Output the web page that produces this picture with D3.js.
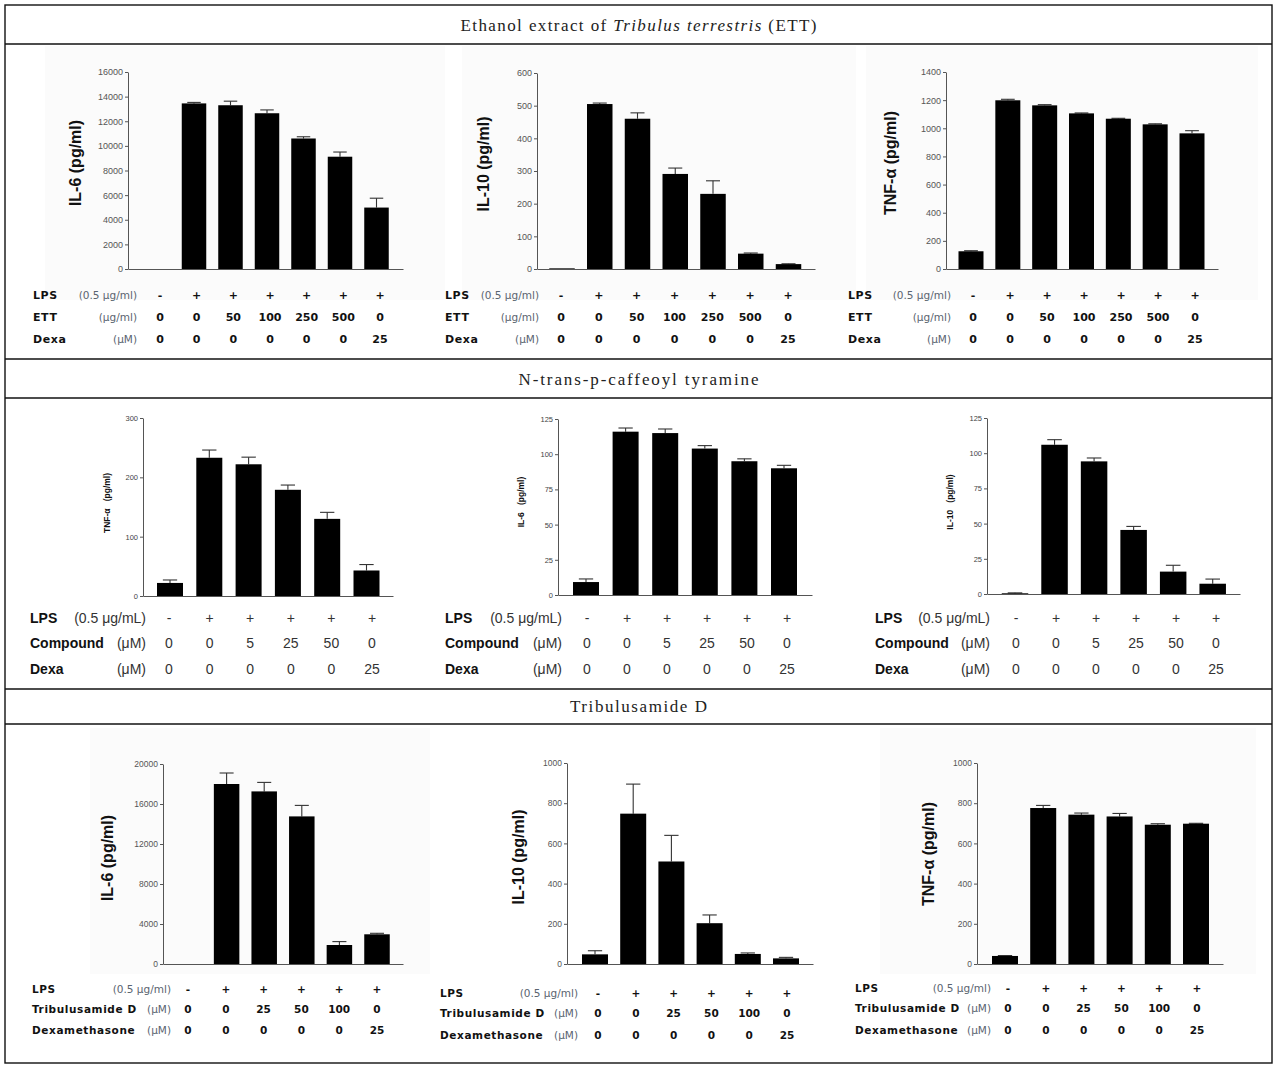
<!DOCTYPE html>
<html><head><meta charset="utf-8">
<script src="https://cdn.jsdelivr.net/npm/d3@7"></script>
<style>body{margin:0;background:#fff}svg text{white-space:pre}</style>
</head><body>
<svg id="c" width="1277" height="1068"></svg>
<script>
// ---------- DATA ----------
const sectionTitles = [
  [["Ethanol extract of ", false], ["Tribulus terrestris", true], [" (ETT)", false]],
  [["N-trans-p-caffeoyl tyramine", false]],
  [["Tribulusamide D", false]]
];

// Section 1: ETT
const ettRowNames = ["LPS", "ETT", "Dexa"];
const ettUnits = ["(0.5 μg/ml)", "(μg/ml)", "(μM)"];
const ettLPS = ["-", "+", "+", "+", "+", "+", "+"];
const ettDose = ["0", "0", "50", "100", "250", "500", "0"];
const ettDexa = ["0", "0", "0", "0", "0", "0", "25"];
const ettIL6 = [0, 13450, 13300, 12650, 10600, 9120, 4990];
const ettIL6Err = [0, 80, 330, 270, 140, 380, 760];
const ettIL6Ticks = [0, 2000, 4000, 6000, 8000, 10000, 12000, 14000, 16000];
const ettIL10 = [2, 505, 460, 291, 230, 47, 15];
const ettIL10Err = [0, 3, 18, 18, 40, 2, 1];
const ettIL10Ticks = [0, 100, 200, 300, 400, 500, 600];
const ettTNF = [126, 1199, 1163, 1106, 1068, 1028, 964];
const ettTNFErr = [4, 7, 5, 3, 3, 4, 19];
const ettTNFTicks = [0, 200, 400, 600, 800, 1000, 1200, 1400];

// Section 2: N-trans-p-caffeoyl tyramine
const cmpRowNames = ["LPS", "Compound", "Dexa"];
const cmpUnits = ["(0.5 μg/mL)", "(μM)", "(μM)"];
const cmpLPS = ["-", "+", "+", "+", "+", "+"];
const cmpDose = ["0", "0", "5", "25", "50", "0"];
const cmpDexa = ["0", "0", "0", "0", "0", "25"];
const cmpTNF = [22, 233, 222, 179, 130, 43];
const cmpTNFErr = [5, 13, 12, 8, 11, 10];
const cmpTNFTicks = [0, 100, 200, 300];
const cmpIL6 = [9.2, 116, 115, 104, 95, 90];
const cmpIL6Err = [2.2, 2.6, 2.9, 2.1, 1.7, 2.1];
const cmpIL10 = [0.5, 106, 94.2, 45.5, 15.9, 7.3];
const cmpIL10Err = [0.3, 3.6, 2.4, 2.5, 4.5, 3.3];
const cmpTicks125 = [0, 25, 50, 75, 100, 125];

// Section 3: Tribulusamide D
const tdRowNames = ["LPS", "Tribulusamide D", "Dexamethasone"];
const tdUnits = ["(0.5 μg/ml)", "(μM)", "(μM)"];
const tdLPS = ["-", "+", "+", "+", "+", "+"];
const tdDose = ["0", "0", "25", "50", "100", "0"];
const tdDexa = ["0", "0", "0", "0", "0", "25"];
const tdIL6 = [0, 18000, 17260, 14760, 1900, 2970];
const tdIL6Err = [0, 1100, 900, 1100, 340, 100];
const tdIL6Ticks = [0, 4000, 8000, 12000, 16000, 20000];
const tdIL10 = [48, 748, 510, 203, 50, 28];
const tdIL10Err = [18, 147, 130, 41, 5, 5];
const tdIL10Ticks = [0, 200, 400, 600, 800, 1000];
const tdTNF = [40, 776, 743, 734, 693, 698];
const tdTNFErr = [2, 13, 8, 15, 5, 2];
const tdTNFTicks = [0, 200, 400, 600, 800, 1000];

// ---------- LAYOUT ----------
const svg = d3.select("#c");
const W = 1277;

const styles = [
  { // section 1
    tick: {font: "Liberation Sans, Arial, sans-serif", size: 9, color: "#555"},
    ylab: {font: "Liberation Sans, Arial, sans-serif", size: 16, weight: "bold"},
    name: {font: "DejaVu Sans, sans-serif", size: 11, weight: "bold", ls: 0.6},
    unit: {font: "DejaVu Sans, sans-serif", size: 10.5, weight: "normal", color: "#5a6470"},
    val: {font: "DejaVu Sans, sans-serif", size: 11, weight: "bold", color: "#111"}
  },
  { // section 2
    tick: {font: "Liberation Sans, Arial, sans-serif", size: 7.5, color: "#444"},
    ylab: {font: "Liberation Sans, Arial, sans-serif", size: 8.5, weight: "bold"},
    name: {font: "Liberation Sans, Arial, sans-serif", size: 14, weight: "bold", ls: 0},
    unit: {font: "Liberation Sans, Arial, sans-serif", size: 14, weight: "normal", color: "#333"},
    val: {font: "Liberation Sans, Arial, sans-serif", size: 14, weight: "normal", color: "#333"}
  },
  { // section 3
    tick: {font: "Liberation Sans, Arial, sans-serif", size: 8.5, color: "#555"},
    ylab: {font: "Liberation Sans, Arial, sans-serif", size: 16, weight: "bold"},
    name: {font: "DejaVu Sans, sans-serif", size: 10.5, weight: "bold", ls: 0.6},
    unit: {font: "DejaVu Sans, sans-serif", size: 10.5, weight: "normal", color: "#5a6470"},
    val: {font: "DejaVu Sans, sans-serif", size: 10.5, weight: "bold", color: "#111"}
  }
];

const panels = [
  {sec:0, vals: ettIL6, errs: ettIL6Err, ticks: ettIL6Ticks, label: "IL-6 (pg/ml)",
   ax: 128, axEnd: 403, yTop: 72, yBot: 269, c1: 157.5, cN: 376.5, bw: 24.5, lx: 75, ly: 163,
   rows: [ettLPS, ettDose, ettDexa], names: ettRowNames, units: ettUnits,
   tx: 33, ux: 137, ry: [295, 317, 339], v1: 160, vN: 380, bg: [45, 46, 400, 254]},
  {sec:0, vals: ettIL10, errs: ettIL10Err, ticks: ettIL10Ticks, label: "IL-10 (pg/ml)",
   ax: 537, axEnd: 815, yTop: 73, yBot: 269, c1: 562, cN: 788.5, bw: 25.5, lx: 483, ly: 164,
   rows: [ettLPS, ettDose, ettDexa], names: ettRowNames, units: ettUnits,
   tx: 445, ux: 539, ry: [295, 317, 339], v1: 561, vN: 788, bg: [462, 46, 394, 254]},
  {sec:0, vals: ettTNF, errs: ettTNFErr, ticks: ettTNFTicks, label: "TNF-α (pg/ml)",
   ax: 946, axEnd: 1218, yTop: 72, yBot: 269, c1: 971, cN: 1192, bw: 25, lx: 890, ly: 163,
   rows: [ettLPS, ettDose, ettDexa], names: ettRowNames, units: ettUnits,
   tx: 848, ux: 951, ry: [295, 317, 339], v1: 973, vN: 1195, bg: [866, 46, 392, 254]},

  {sec:1, vals: cmpTNF, errs: cmpTNFErr, ticks: cmpTNFTicks, label: "TNF-α   (pg/ml)",
   ax: 143, axEnd: 393, yTop: 418, yBot: 596, c1: 170, cN: 366.5, bw: 26, lx: 107, ly: 503,
   rows: [cmpLPS, cmpDose, cmpDexa], names: cmpRowNames, units: cmpUnits,
   tx: 30, ux: 146, ry: [618, 643, 669], v1: 169, vN: 372},
  {sec:1, vals: cmpIL6, errs: cmpIL6Err, ticks: cmpTicks125, label: "IL-6   (pg/ml)",
   ax: 558, axEnd: 812, yTop: 419, yBot: 595, c1: 586, cN: 784, bw: 26, lx: 521, ly: 502,
   rows: [cmpLPS, cmpDose, cmpDexa], names: cmpRowNames, units: cmpUnits,
   tx: 445, ux: 562, ry: [618, 643, 669], v1: 587, vN: 787},
  {sec:1, vals: cmpIL10, errs: cmpIL10Err, ticks: cmpTicks125, label: "IL-10   (pg/ml)",
   ax: 987, axEnd: 1240, yTop: 418, yBot: 594, c1: 1015, cN: 1212.7, bw: 26.5, lx: 950, ly: 502,
   rows: [cmpLPS, cmpDose, cmpDexa], names: cmpRowNames, units: cmpUnits,
   tx: 875, ux: 990, ry: [618, 643, 669], v1: 1016, vN: 1216},

  {sec:2, vals: tdIL6, errs: tdIL6Err, ticks: tdIL6Ticks, label: "IL-6 (pg/ml)",
   ax: 163, axEnd: 403, yTop: 764, yBot: 964, c1: 189, cN: 377, bw: 25.5, lx: 107, ly: 858,
   rows: [tdLPS, tdDose, tdDexa], names: tdRowNames, units: tdUnits,
   tx: 32, ux: 171, ry: [989, 1009, 1030], v1: 188, vN: 377, bg: [90, 728, 340, 246]},
  {sec:2, vals: tdIL10, errs: tdIL10Err, ticks: tdIL10Ticks, label: "IL-10 (pg/ml)",
   ax: 567, axEnd: 813, yTop: 763, yBot: 964, c1: 595, cN: 786, bw: 26, lx: 518, ly: 857,
   rows: [tdLPS, tdDose, tdDexa], names: tdRowNames, units: tdUnits,
   tx: 440, ux: 578, ry: [993, 1013, 1035], v1: 598, vN: 787},
  {sec:2, vals: tdTNF, errs: tdTNFErr, ticks: tdTNFTicks, label: "TNF-α (pg/ml)",
   ax: 977, axEnd: 1223, yTop: 763, yBot: 964, c1: 1005, cN: 1196, bw: 26, lx: 928, ly: 854,
   rows: [tdLPS, tdDose, tdDexa], names: tdRowNames, units: tdUnits,
   tx: 855, ux: 991, ry: [988, 1008, 1030], v1: 1008, vN: 1197, bg: [880, 728, 376, 246]}
];

// ---------- TABLE FRAME ----------
const frame = {x0: 5, x1: 1272, y0: 5, y1: 1063};
const hLines = [44, 359, 398, 689, 724];
const titleY = [25, 379, 706];
const titleW = [356, 240, 137];

// faint panel backgrounds
panels.filter(p => p.bg).forEach(p => {
  svg.append("rect").attr("x", p.bg[0]).attr("y", p.bg[1]).attr("width", p.bg[2]).attr("height", p.bg[3])
    .attr("fill", "#fbfbfb");
});

svg.append("rect").attr("x", frame.x0).attr("y", frame.y0)
  .attr("width", frame.x1 - frame.x0).attr("height", frame.y1 - frame.y0)
  .attr("fill", "none").attr("stroke", "#111").attr("stroke-width", 1.4);
hLines.forEach(y => svg.append("line").attr("x1", frame.x0).attr("x2", frame.x1)
  .attr("y1", y).attr("y2", y).attr("stroke", "#111").attr("stroke-width", 1.4));

sectionTitles.forEach((parts, i) => {
  const t = svg.append("text").attr("x", W / 2).attr("y", titleY[i])
    .attr("text-anchor", "middle").attr("dominant-baseline", "central")
    .attr("font-family", "Liberation Serif, DejaVu Serif, serif").attr("font-size", 17)
    .attr("fill", "#222")
    .attr("textLength", titleW[i]).attr("lengthAdjust", "spacing");
  parts.forEach(([s, it]) => t.append("tspan").text(s).attr("font-style", it ? "italic" : "normal"));
});

// ---------- PANELS ----------
panels.forEach(p => {
  const st = styles[p.sec];
  const g = svg.append("g");
  const n = p.vals.length;
  const idx = d3.range(n);
  const x = d3.scalePoint().domain(idx).range([p.c1, p.cN]);
  const y = d3.scaleLinear().domain([0, d3.max(p.ticks)]).range([p.yBot, p.yTop]);

  // y axis
  const yAx = g.append("g").attr("transform", `translate(${p.ax},0)`)
    .call(d3.axisLeft(y).tickValues(p.ticks).tickSize(3).tickSizeOuter(0).tickPadding(2)
      .tickFormat(d3.format("d")));
  yAx.select(".domain").attr("stroke", "#555");
  yAx.selectAll(".tick line").attr("stroke", "#555");
  yAx.selectAll(".tick text").attr("font-family", st.tick.font).attr("font-size", st.tick.size)
    .attr("fill", st.tick.color);

  // x axis line
  const xl = d3.scaleLinear().domain([0, 1]).range([p.ax, p.axEnd]);
  const xAx = g.append("g").attr("transform", `translate(0,${p.yBot})`)
    .call(d3.axisBottom(xl).tickValues([]).tickSizeOuter(0));
  xAx.select(".domain").attr("stroke", "#555");

  // error bars
  const cap = p.bw * 0.55;
  idx.forEach(i => {
    if (p.errs[i] <= 0) return;
    const top = y(p.vals[i] + p.errs[i]);
    g.append("line").attr("x1", x(i)).attr("x2", x(i)).attr("y1", y(p.vals[i])).attr("y2", top)
      .attr("stroke", "#333").attr("stroke-width", 1.1);
    g.append("line").attr("x1", x(i) - cap / 2).attr("x2", x(i) + cap / 2).attr("y1", top).attr("y2", top)
      .attr("stroke", "#333").attr("stroke-width", 1.1);
  });

  // bars
  g.selectAll("rect.bar").data(p.vals).join("rect").attr("class", "bar")
    .attr("x", (d, i) => x(i) - p.bw / 2).attr("width", p.bw)
    .attr("y", d => y(d)).attr("height", d => p.yBot - y(d))
    .attr("fill", "#000");

  // y label
  g.append("text").attr("transform", `translate(${p.lx},${p.ly}) rotate(-90)`)
    .attr("text-anchor", "middle").attr("dominant-baseline", "central")
    .attr("font-family", st.ylab.font).attr("font-size", st.ylab.size).attr("font-weight", st.ylab.weight)
    .attr("fill", "#111").text(p.label);

  // condition table
  const xv = d3.scalePoint().domain(idx).range([p.v1, p.vN]);
  p.rows.forEach((row, r) => {
    const yy = p.ry[r];
    g.append("text").attr("x", p.tx).attr("y", yy).attr("dominant-baseline", "central")
      .attr("font-family", st.name.font).attr("font-size", st.name.size).attr("font-weight", st.name.weight)
      .attr("letter-spacing", st.name.ls).attr("fill", "#111").text(p.names[r]);
    g.append("text").attr("x", p.ux).attr("y", yy).attr("dominant-baseline", "central")
      .attr("text-anchor", "end")
      .attr("font-family", st.unit.font).attr("font-size", st.unit.size).attr("font-weight", st.unit.weight)
      .attr("fill", st.unit.color).text(p.units[r]);
    row.forEach((v, i) => {
      g.append("text").attr("x", xv(i)).attr("y", yy).attr("dominant-baseline", "central")
        .attr("text-anchor", "middle")
        .attr("font-family", st.val.font).attr("font-size", st.val.size).attr("font-weight", st.val.weight)
        .attr("fill", st.val.color).text(v);
    });
  });
});
</script>
</body></html>
